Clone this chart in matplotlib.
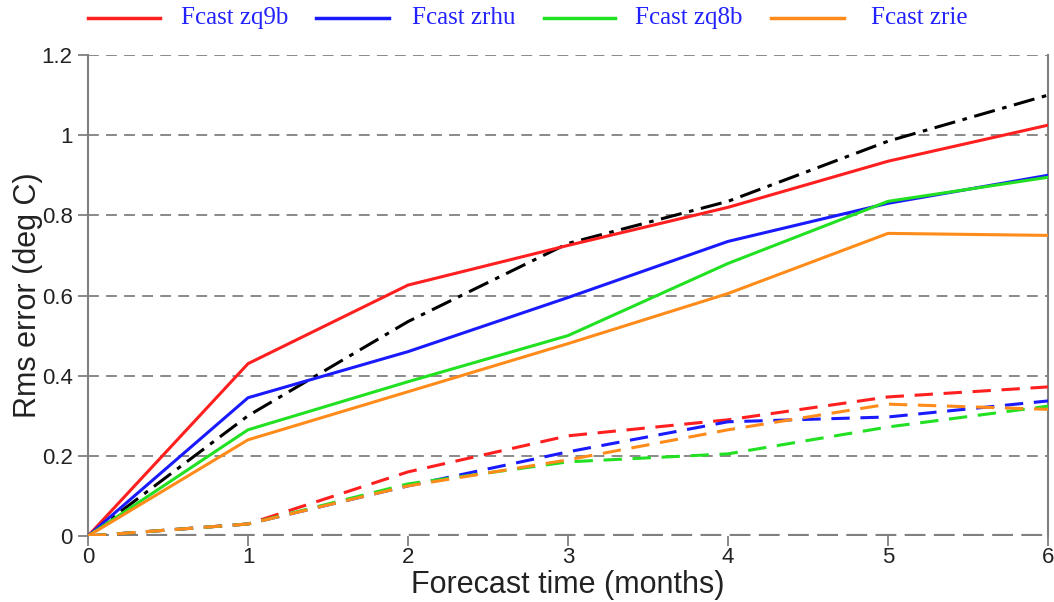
import matplotlib
matplotlib.use("Agg")
import matplotlib.pyplot as plt
from matplotlib.lines import Line2D

months = [0, 1, 2, 3, 4, 5, 6]

# RMS error of the forecasts (solid lines)
fc_zq9b = [0, 0.43, 0.626, 0.725, 0.82, 0.935, 1.025]
fc_zrhu = [0, 0.345, 0.46, 0.595, 0.735, 0.83, 0.90]
fc_zq8b = [0, 0.265, 0.385, 0.50, 0.68, 0.835, 0.895]
fc_zrie = [0, 0.24, 0.36, 0.48, 0.605, 0.755, 0.75]

# Persistence reference (dash-dot)
persistence = [0, 0.30, 0.535, 0.73, 0.835, 0.985, 1.10]

# Ensemble spread (dashed lines)
sp_zq9b = [0, 0.03, 0.16, 0.25, 0.29, 0.347, 0.372]
sp_zrhu = [0, 0.03, 0.125, 0.21, 0.285, 0.297, 0.337]
sp_zq8b = [0, 0.03, 0.13, 0.185, 0.205, 0.272, 0.324]
sp_zrie = [0, 0.03, 0.125, 0.19, 0.265, 0.329, 0.316]

names = ["Fcast zq9b", "Fcast zrhu", "Fcast zq8b", "Fcast zrie"]
colors = ["#ff1f1f", "#1a1aff", "#22e022", "#ff8c1a"]

W, H = 1054, 602
fig = plt.figure(figsize=(W / 100, H / 100), dpi=100)
ax = fig.add_axes([0.0835, 0.1096, 0.9108, 0.799])

sans = "Liberation Sans"
grey = "#808080"
for yv in [0.2, 0.4, 0.6, 0.8, 1.0, 1.2]:
    ax.axhline(yv, color=grey, lw=1.3, dashes=(6, 4), zorder=1)
ax.axhline(0, color=grey, lw=3.0, dashes=(5, 2), zorder=1)

for vals, c in zip([sp_zq9b, sp_zrhu, sp_zq8b, sp_zrie], colors):
    ax.plot(months, vals, color=c, lw=2.2, dashes=(6, 3.5), zorder=3)

ax.plot(months, persistence, color="black", lw=2.2, dashes=(7, 2.5, 1.5, 2.5), zorder=4)

for vals, c in zip([fc_zq9b, fc_zrhu, fc_zq8b, fc_zrie], colors):
    ax.plot(months, vals, color=c, lw=2.2, zorder=5)

ax.set_xlim(0, 6)
ax.set_ylim(0, 1.2)
ax.set_xticks(months)
ax.set_xticklabels([str(m) for m in months])
ax.set_yticks([0, 0.2, 0.4, 0.6, 0.8, 1.0, 1.2])
ax.set_yticklabels(["0", "0.2", "0.4", "0.6", "0.8", "1", "1.2"])

for side in ["top", "bottom"]:
    ax.spines[side].set_visible(False)
for side in ["left", "right"]:
    ax.spines[side].set_color(grey)
    ax.spines[side].set_linewidth(1.5)

ax.tick_params(axis="both", colors=grey, labelcolor="#222222", labelsize=16,
               length=7, width=1.3, direction="out")
ax.tick_params(axis="y", pad=4)
ax.tick_params(axis="x", pad=1)
for lab in ax.get_xticklabels() + ax.get_yticklabels():
    lab.set_fontfamily(sans)

ax.set_xlabel("Forecast time (months)", fontsize=22, color="#222222",
              family=sans, labelpad=1)
ax.set_ylabel("Rms error (deg C)", fontsize=22, color="#222222", family=sans)
ax.yaxis.set_label_coords(-0.047, 0.5)

# Legend row across the top of the figure
line_x = [(88, 160), (316, 389), (544, 615), (771, 844)]
text_x = [181, 412, 635, 871]
ly = 1 - 18 / H
for (x0, x1), tx, name, c in zip(line_x, text_x, names, colors):
    fig.add_artist(Line2D([x0 / W, x1 / W], [ly, ly], color=c, lw=2.5,
                          transform=fig.transFigure))
    fig.text(tx / W, ly, name, color="#2222ff", fontsize=18,
             family="Liberation Serif", va="center", ha="left")

fig.savefig("out.png", dpi=100)
